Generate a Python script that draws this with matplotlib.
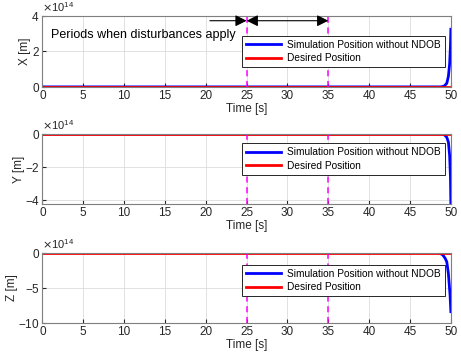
import matplotlib
matplotlib.use('Agg')
from matplotlib import pyplot as plt
from matplotlib.ticker import ScalarFormatter
import numpy as np

# data (positions in units of 1e14 m)
t_x = [0, 48.8, 49.2, 49.5, 49.7, 49.85, 49.95, 50]
x_sim = [0, 0, 0.05, 0.2, 0.6, 1.3, 2.3, 3.25]
t_y = [0, 48.9, 49.2, 49.5, 49.7, 49.85, 49.95, 50]
y_sim = [0, 0, -0.05, -0.2, -0.5, -1.3, -2.6, -4.24]
t_z = [0, 48.5, 49.0, 49.3, 49.5, 49.7, 49.9, 50]
z_sim = [0, 0, -0.3, -0.8, -1.3, -3.0, -6.0, -8.4]
t_des = [0, 50]
des = [0, 0]

dist_start = 25
dist_end = 35

ylims = [(0, 4), (-4.24, 0), (-10, 0)]
yticks = [[0, 2, 4], [-4, -2, 0], [-10, -5, 0]]
ylabels = ["X [m]", "Y [m]", "Z [m]"]
leg_top = [0.72, 0.87, 0.83]

plt.rcParams['font.family'] = 'Liberation Sans'
plt.rcParams['font.size'] = 8.5

fig = plt.figure(figsize=(4.61, 3.62), dpi=100)
ax_pos = [(0.092, 0.760, 0.886, 0.196), (0.092, 0.436, 0.886, 0.194), (0.092, 0.108, 0.886, 0.194)]
series = [(t_x, x_sim), (t_y, y_sim), (t_z, z_sim)]
gray = '#262626'

for i in range(3):
    ax = fig.add_axes(ax_pos[i])
    t, v = series[i]
    ax.plot(t, np.asarray(v) * 1e14, color='#0000ff', lw=2, label="Simulation Position without NDOB")
    ax.plot(t_des, np.asarray(des) * 1e14, color='#ff0000', lw=2, label="Desired Position")
    ax.axvline(dist_start, color='#ff00ff', ls='--', lw=1.1, dashes=(4, 3))
    ax.axvline(dist_end, color='#ff00ff', ls='--', lw=1.1, dashes=(4, 3))
    ax.set_xlim(0, 50)
    ax.set_ylim(ylims[i][0] * 1e14, ylims[i][1] * 1e14)
    ax.set_xticks(range(0, 51, 5))
    ax.set_yticks(np.asarray(yticks[i]) * 1e14)
    fmt = ScalarFormatter(useMathText=True)
    fmt.set_powerlimits((14, 14))
    ax.yaxis.set_major_formatter(fmt)
    ax.yaxis.get_offset_text().set_fontsize(8)
    ax.grid(True, color='#dcdcdc', lw=0.6)
    ax.set_axisbelow(True)
    ax.tick_params(direction='in', length=3, colors=gray, labelcolor='#262626', pad=2)
    for s in ax.spines.values():
        s.set_color('#7f7f7f')
        s.set_linewidth(0.8)
    ax.set_xlabel("Time [s]", color='#262626', labelpad=1)
    ax.set_ylabel(ylabels[i], color='#262626', labelpad=0)
    leg = ax.legend(loc='upper right', bbox_to_anchor=(0.985, leg_top[i]), fancybox=False,
                    edgecolor='#262626', framealpha=1, fontsize=7.3, handlelength=3.4,
                    borderpad=0.4, labelspacing=0.35, handletextpad=0.6, borderaxespad=0)
    leg.get_frame().set_linewidth(0.7)
    if i == 0:
        ax.text(1, 2.9e14, "Periods when disturbances apply", fontsize=9, va='center', ha='left')
        ax.annotate('', xy=(dist_start, 3.73e14), xytext=(20.5, 3.73e14),
                    arrowprops=dict(arrowstyle='-|>', color='k', lw=0.8,
                                    mutation_scale=17, shrinkA=0, shrinkB=0))
        ax.annotate('', xy=(dist_end, 3.73e14), xytext=(dist_start, 3.73e14),
                    arrowprops=dict(arrowstyle='<|-|>', color='k', lw=0.8,
                                    mutation_scale=17, shrinkA=0, shrinkB=0))

plt.savefig('out.png', dpi=100)
